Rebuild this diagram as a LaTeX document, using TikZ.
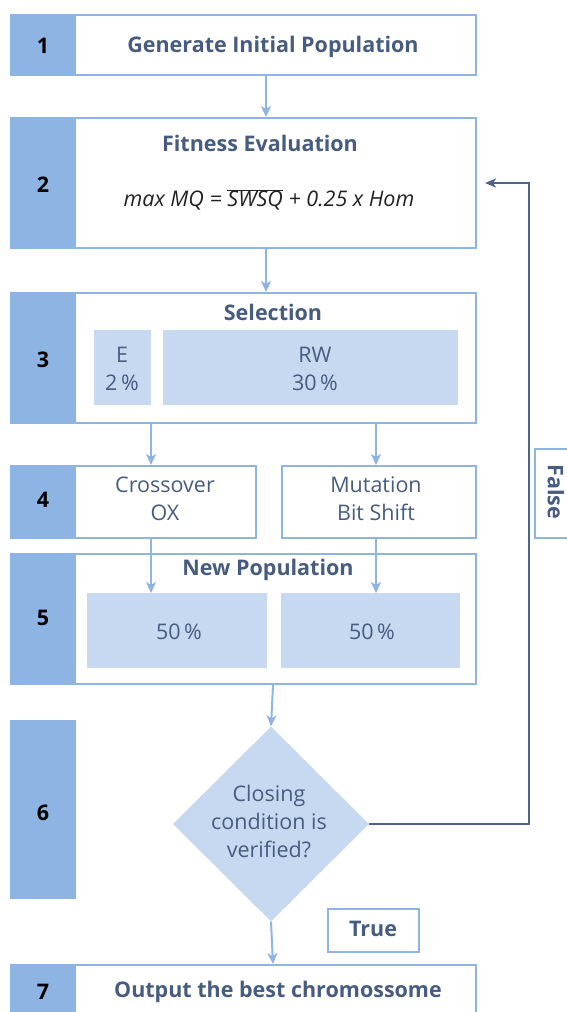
\documentclass[tikz,border=0pt]{standalone}
\usepackage{fontspec}
\setmainfont{Open Sans}
\usetikzlibrary{arrows.meta,shapes.geometric}
\definecolor{barblue}{HTML}{8EB4E3}
\definecolor{lightfill}{HTML}{C6D9F1}
\definecolor{txt}{HTML}{475C7E}
\definecolor{loopc}{HTML}{4B6489}
\definecolor{formula}{HTML}{222222}
\newcommand{\txtsize}{\fontsize{21.5}{28}\selectfont}

\begin{document}
\begin{tikzpicture}[x=1pt,y=-1pt,
  frame/.style={draw=barblue, line width=2pt, fill=white, inner sep=0pt, anchor=north west},
  bar/.style={draw=barblue, fill=barblue, line width=2pt, inner sep=0pt, anchor=north west, minimum width=64pt},
  sub/.style={fill=lightfill, inner sep=0pt, anchor=north west},
  num/.style={font=\txtsize\bfseries, text=black},
  title/.style={font=\txtsize\bfseries, text=txt},
  plain/.style={font=\txtsize, text=txt, align=center},
  flow/.style={draw=barblue, line width=2pt, -{Stealth[length=11pt,width=10pt,inset=3pt]}},
  back/.style={draw=loopc, line width=2pt, -{Stealth[length=11pt,width=9pt,inset=3pt]}}
]
\useasboundingbox (0,0) rectangle (567,1012);

% step frames
\node[frame, minimum width=465pt, minimum height=60pt]  (box1)  at (10,14)  {};
\node[frame, minimum width=465pt, minimum height=130pt] (box2)  at (10,117) {};
\node[frame, minimum width=465pt, minimum height=130pt] (box3)  at (10,292) {};
\node[frame, minimum width=245pt, minimum height=72pt]  (cross) at (10,465) {};
\node[frame, minimum width=194pt, minimum height=72pt]  (mut)   at (281,465) {};
\node[frame, minimum width=465pt, minimum height=130pt] (box5)  at (10,553) {};
\node[frame, minimum width=465pt, minimum height=70pt]  (box7)  at (10,964) {};

% number bars
\node[bar, minimum height=60pt]  (bar1) at (10,14)  {};
\node[bar, minimum height=130pt] (bar2) at (10,117) {};
\node[bar, minimum height=130pt] (bar3) at (10,292) {};
\node[bar, minimum height=72pt]  (bar4) at (10,465) {};
\node[bar, minimum height=130pt] (bar5) at (10,553) {};
\node[bar, minimum height=177pt] (bar6) at (10,720) {};
\node[bar, minimum height=70pt]  (bar7) at (10,964) {};

\node[num] (n1) at (43,46)  {1};
\node[num] (n2) at (43,185) {2};
\node[num] (n3) at (43,360) {3};
\node[num] (n4) at (43,500) {4};
\node[num] (n5) at (43,618) {5};
\node[num] (n6) at (43,813) {6};
\node[num] (n7) at (43,992) {7};

% step 1
\node[title] (t1) at (273,47) {Generate Initial Population};

% step 2
\node[title] (t2) at (260,143) {Fitness Evaluation};
\node[font=\txtsize\itshape, text=formula] (fx) at (269,200)
  {max MQ = $\overline{\mbox{\txtsize\itshape SWSQ}}$ + 0.25 x Hom};

% step 3
\node[title] (t3) at (273,312) {Selection};
\node[sub, minimum width=57pt, minimum height=75pt]  (selE)  at (94,330)  {};
\node[sub, minimum width=295pt, minimum height=75pt] (selRW) at (163,330) {};
\node[plain] (tE)  at (122,369) {E\\2\,\%};
\node[plain] (tRW) at (315,369) {RW\\30\,\%};

% step 4
\node[plain] (tc) at (165,499) {Crossover\\OX};
\node[plain] (tm) at (376,499) {Mutation\\Bit Shift};

% step 5
\node[title] (t5) at (268,570) {New Population};
\node[sub, minimum width=180pt, minimum height=75pt] (p1) at (87,593)  {};
\node[sub, minimum width=179pt, minimum height=75pt] (p2) at (281,593) {};
\node[plain] (tp1) at (179,632) {50\,\%};
\node[plain] (tp2) at (372,632) {50\,\%};

% step 6
\node[diamond, fill=lightfill, inner sep=0pt, minimum width=196pt, minimum height=195pt] (dec) at (271,824) {};
\node[plain] (td) at (269,821) {Closing\\condition is\\verified?};

% step 7
\node[title] (t7) at (278,992) {Output the best chromossome};

% branch labels
\node[frame, minimum width=91pt, minimum height=43pt] (truebox) at (327,908) {};
\node[title] (ttrue) at (373,929) {True};
\node[frame, minimum width=60pt, minimum height=89pt] (falsebox) at (534,448) {};
\node[title, rotate=-90] (tfalse) at (556,492) {False};

% connectors
\coordinate (xa) at (266,0);
\coordinate (xl) at (151,0);
\coordinate (xr) at (376,0);
\coordinate (xc) at (273,0);
\coordinate (loopx) at (529,0);
\coordinate (loopend) at (485,183);

\draw[flow] (xa |- box1.south) -- (xa |- box2.north);
\draw[flow] (xa |- box2.south) -- (xa |- box3.north);
\draw[flow] (xl |- box3.south) -- (xl |- cross.north);
\draw[flow] (xr |- box3.south) -- (xr |- mut.north);
\draw[flow] (xl |- cross.south) -- (xl |- p1.north);
\draw[flow] (xr |- mut.south) -- (xr |- p2.north);
\draw[flow] (xc |- box5.south) -- (dec.north);
\draw[flow] (dec.south) -- (xc |- box7.north);
\draw[back] (dec.east) -- (loopx |- dec.east) -- (loopx |- loopend) -- (loopend);

\end{tikzpicture}
\end{document}
